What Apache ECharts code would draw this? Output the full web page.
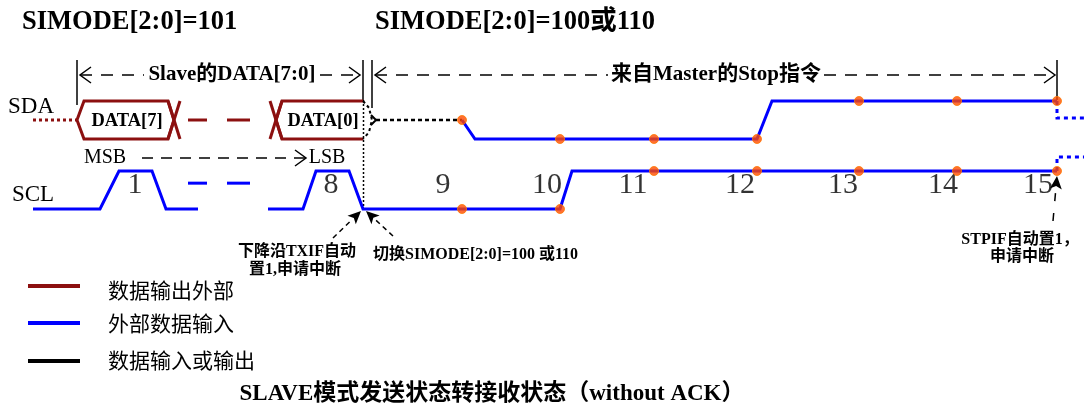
<!DOCTYPE html>
<html><head><meta charset="utf-8">
<script src="https://cdn.jsdelivr.net/npm/echarts@6/dist/echarts.min.js"></script>
<style>html,body{margin:0;padding:0;background:#fff}#c{width:1084px;height:408px}</style>
</head><body><div id="c"></div>
<script>
// ---- waveform data: [time, logic level] ----
const sdaIdleDotted  = [[33,0.5],[77,0.5]];
const sdaByte7Hex    = [[174,0.5],[168,1],[84,1],[77,0.5],[84,0],[168,0],[174,0.5]];
const sdaByte7CrossA = [[168,1],[180,0]];
const sdaByte7CrossB = [[168,0],[180,1]];
const sdaGapDash1    = [[188,0.5],[207,0.5]];
const sdaGapDash2    = [[227,0.5],[250,0.5]];
const sdaByte0CrossA = [[270,1],[282,0]];
const sdaByte0CrossB = [[270,0],[282,1]];
const sdaByte0Hex    = [[363,1],[282,1],[276,0.5],[282,0],[363,0]];
const sdaTurnaround  = [[363,1],[369,0.82],[372,0.5],[369,0.18],[363,0]];
const sdaReleased    = [[376,0.5],[462,0.5]];
const sdaMaster      = [[462,0.5],[475,0],[757,0],[772,1],[1057,1]];
const sdaAfter       = [[1057,1],[1057,0.55],[1084,0.55]];
const sdaSamples     = [[462,0.5],[560,0],[654,0],[757,0],[859,1],[957,1],[1057,1]];

const sclPart1    = [[33,0],[100,0],[119,1],[152,1],[166,0],[198,0]];
const sclGapDash1 = [[188,0.68],[207,0.68]];
const sclGapDash2 = [[227,0.68],[250,0.68]];
const sclPart2    = [[268,0],[303,0],[316,1],[349,1],[363,0],[560,0],[572,1],[1057,1]];
const sclAfter    = [[1057,1],[1057,1.37],[1084,1.37]];
const sclSamples  = [[462,0],[560,0],[654,1],[757,1],[859,1],[957,1],[1057,1]];

const clockLabels = ['1','8','9','10','11','12','13','14','15'];
const clockTimes  = [135,331,443,547,633,740,843,943,1038];
const clockLevel  = 0.62;

const legendNames = ['数据输出外部','外部数据输入','数据输入或输出'];

const RED = '#8c1010', BLUE = '#0000ff', BLACK = '#000000', DOT = '#ff4a00';
const SERIF = "'Liberation Serif','Noto Sans CJK SC'";

function wave(data, grid, color, width, type) {
  return {type:'line', data:data, xAxisIndex:grid, yAxisIndex:grid, symbol:'none', showSymbol:false,
    clip:false, silent:true, animation:false,
    lineStyle:{color:color, width:width, type:type || 'solid', cap:'butt', join:'miter'}, z:2};
}
function dots(data, grid) {
  return {type:'scatter', data:data, xAxisIndex:grid, yAxisIndex:grid, symbolSize:9, clip:false,
    silent:true, animation:false, itemStyle:{color:DOT, borderColor:'#ff7a00', borderWidth:1}, z:5};
}

const series = [
  wave(sdaIdleDotted, 0, RED, 3, [3,3]),
  wave(sdaByte7Hex, 0, RED, 3),
  wave(sdaByte7CrossA, 0, RED, 3),
  wave(sdaByte7CrossB, 0, RED, 3),
  wave(sdaGapDash1, 0, RED, 3),
  wave(sdaGapDash2, 0, RED, 3),
  wave(sdaByte0CrossA, 0, RED, 3),
  wave(sdaByte0CrossB, 0, RED, 3),
  wave(sdaByte0Hex, 0, RED, 3),
  wave(sdaTurnaround, 0, BLACK, 2, [3,3]),
  wave(sdaReleased, 0, BLACK, 2.5, [4,3]),
  wave(sdaMaster, 0, BLUE, 3),
  wave(sdaAfter, 0, BLUE, 3, [4,4]),
  dots(sdaSamples, 0),
  wave(sclPart1, 1, BLUE, 3),
  wave(sclGapDash1, 1, BLUE, 3),
  wave(sclGapDash2, 1, BLUE, 3),
  wave(sclPart2, 1, BLUE, 3),
  wave(sclAfter, 1, BLUE, 3, [4,4]),
  dots(sclSamples, 1),
  {type:'scatter', xAxisIndex:1, yAxisIndex:1, symbolSize:1, silent:true, animation:false, clip:false,
   itemStyle:{color:'rgba(0,0,0,0)'},
   data: clockTimes.map((t,i)=>[t, clockLevel, clockLabels[i]]),
   label:{show:true, position:'inside', formatter:p=>p.data[2], fontSize:30, fontFamily:SERIF, color:'#000'}, z:4}
];

// ---- annotation helpers (layout only) ----
function seg(x1,y1,x2,y2,w,dash,color){
  return {type:'line', shape:{x1,y1,x2,y2}, silent:true,
    style:{stroke:color||BLACK, lineWidth:w||1.5, lineDash:dash||null}};
}
function chevron(tx,ty,dir,color){ // open arrowhead, dir=1 right, -1 left
  return {type:'polyline', shape:{points:[[tx-dir*11,ty-8],[tx,ty],[tx-dir*11,ty+8]]}, silent:true,
    style:{stroke:color||BLACK, lineWidth:1.5, fill:null}};
}
function arrow(x1,y1,x2,y2,dash){
  const dx=x2-x1, dy=y2-y1, L=Math.hypot(dx,dy), ux=dx/L, uy=dy/L, h=13, w=6;
  const bx=x2-ux*h, by=y2-uy*h;
  return [
    seg(x1,y1,bx,by,1.5,dash),
    {type:'polygon', silent:true, shape:{points:[[x2,y2],[bx-uy*w,by+ux*w],[bx+ux*3,by+uy*3],[bx+uy*w,by-ux*w]]}, style:{fill:BLACK}}
  ];
}
function txt(s,x,y,size,bold,align){
  return {type:'text', silent:true, x:x, y:y,
    style:{text:s, fontSize:size, fontFamily:SERIF, fontWeight:bold?'bold':'normal', fill:BLACK,
      align:align||'left', verticalAlign:'middle'}};
}

const graphic = [
  txt('SIMODE[2:0]=101', 22, 22, 26.5, true),
  txt('SIMODE[2:0]=100或110', 375, 22, 26.5, true),
  // dimension row
  seg(77,60,77,105), chevron(80,75,-1), seg(80,75,144,75,1.5,[12,9]),
  txt('Slave的DATA[7:0]', 232, 75, 21, true, 'center'),
  seg(320,75,360,75,1.5,[12,9]), chevron(360,75,1),
  seg(363,60,363,100), seg(372,60,372,108),
  chevron(375,75,-1), seg(375,75,608,75,1.5,[12,9]),
  txt('来自Master的Stop指令', 716, 75, 21, true, 'center'),
  seg(824,75,1055,75,1.5,[12,9]), chevron(1055,75,1),
  seg(1057,60,1057,100),
  // turnaround marks
  seg(363.5,100,363.5,209,1.5,[2,2]),
  {type:'polyline', silent:true, shape:{points:[[371,115],[376,120],[371,125]]}, style:{stroke:BLACK,lineWidth:2,fill:null}},
  // signal names
  txt('SDA', 31, 107, 23, false, 'center'),
  txt('SCL', 33, 195, 23, false, 'center'),
  txt('DATA[7]', 127, 121, 18.5, true, 'center'),
  txt('DATA[0]', 323, 121, 18.5, true, 'center'),
  txt('MSB', 105, 158, 20, false, 'center'),
  seg(142,158,305,158,1.5,[11,8]), chevron(306,158,1),
  txt('LSB', 327, 158, 20, false, 'center'),
  // callouts
  ...arrow(333,238,361,211,[5,4]),
  ...arrow(393,236,366,211,[5,4]),
  ...arrow(1053,221,1057,176,[8,12]),
  txt('下降沿TXIF自动', 297, 252, 16, true, 'center'),
  txt('置1,申请中断', 295, 270, 16, true, 'center'),
  txt('切换SIMODE[2:0]=100 或110', 373, 255, 16, true, 'left'),
  txt('STPIF自动置1，', 1020, 240, 16, true, 'center'),
  txt('申请中断', 1022, 257, 16, true, 'center'),
  // legend
  seg(28,286,80,286,4,null,RED), txt(legendNames[0], 108, 292, 21, false),
  seg(28,323,80,323,4,null,BLUE), txt(legendNames[1], 108, 325, 21, false),
  seg(28,361,80,361,4,null,BLACK), txt(legendNames[2], 108, 362, 21, false),
  // caption
  txt('SLAVE模式发送状态转接收状态（without ACK）', 492, 394, 23, true, 'center')
];

const chart = echarts.init(document.getElementById('c'), null, {renderer:'canvas'});
chart.setOption({
  backgroundColor:'#ffffff',
  animation:false,
  grid:[{left:0,right:0,top:101,height:38},{left:0,right:0,top:171,height:38}],
  xAxis:[{gridIndex:0,type:'value',min:0,max:1084,show:false},{gridIndex:1,type:'value',min:0,max:1084,show:false}],
  yAxis:[{gridIndex:0,type:'value',min:0,max:1,show:false},{gridIndex:1,type:'value',min:0,max:1,show:false}],
  series:series,
  graphic:graphic
});
</script></body></html>
